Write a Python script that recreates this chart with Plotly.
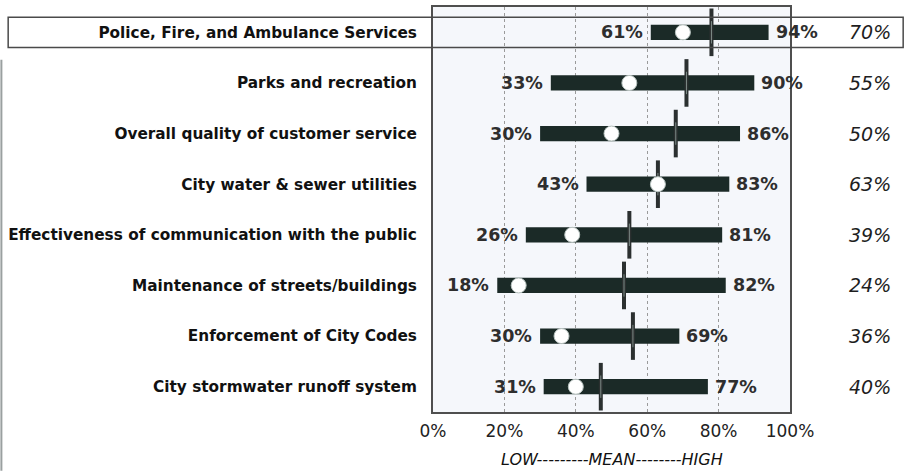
import plotly.graph_objects as go

# Service areas, top to bottom
services = [
    "Police, Fire, and Ambulance Services",
    "Parks and recreation",
    "Overall quality of customer service",
    "City water & sewer utilities",
    "Effectiveness of communication with the public",
    "Maintenance of streets/buildings",
    "Enforcement of City Codes",
    "City stormwater runoff system",
]
low = [61, 33, 30, 43, 26, 18, 30, 31]
high = [94, 90, 86, 83, 81, 82, 69, 77]
mean = [78, 71, 68, 63, 55, 53.5, 56, 47]
city = [70, 55, 50, 63, 39, 24, 36, 40]
tick_vals = [0, 20, 40, 60, 80, 100]
tick_text = ["0%", "20%", "40%", "60%", "80%", "100%"]

rows = list(range(len(services)))
BAR = "#1b2a27"
FONT = "DejaVu Sans"

fig = go.Figure()

# low-to-high range bars
fig.add_trace(go.Bar(
    y=rows, x=[h - l for l, h in zip(low, high)], base=low,
    orientation="h", width=0.3,
    marker=dict(color=BAR, line=dict(width=0)),
    hoverinfo="skip",
))

# mean marker (vertical tick)
fig.add_trace(go.Scatter(
    x=mean, y=rows, mode="markers",
    marker=dict(symbol="line-ns", size=34, line=dict(width=4, color="#2b3030")),
    hoverinfo="skip",
))
fig.add_trace(go.Scatter(
    x=mean, y=rows, mode="markers",
    marker=dict(symbol="line-ns", size=16, line=dict(width=1, color="#7d8a86")),
    hoverinfo="skip",
))

# city score marker
fig.add_trace(go.Scatter(
    x=city, y=rows, mode="markers",
    marker=dict(symbol="circle", size=15, color="#ffffff",
                line=dict(width=1, color="#b9c4c1")),
    hoverinfo="skip",
))

annotations = []
for r, l, h, c in zip(rows, low, high, city):
    annotations.append(dict(
        x=l, y=r, xref="x", yref="y", text=f"{l}%", showarrow=False,
        xanchor="right", yanchor="middle", xshift=-6,
        font=dict(family=FONT, size=17.5, color="#2e2e2e", weight="bold"),
    ))
    annotations.append(dict(
        x=h, y=r, xref="x", yref="y", text=f"{h}%", showarrow=False,
        xanchor="left", yanchor="middle", xshift=5,
        font=dict(family=FONT, size=17.5, color="#2e2e2e", weight="bold"),
    ))
    annotations.append(dict(
        x=1.224, y=r, xref="paper", yref="y", text=f"{c}%", showarrow=False,
        xanchor="center", yanchor="middle",
        font=dict(family=FONT, size=19, color="#1e1e1e", style="italic"),
    ))

annotations.append(dict(
    x=0.5, y=-0.117, xref="paper", yref="paper",
    text="LOW---------MEAN--------HIGH", showarrow=False,
    xanchor="center", yanchor="middle",
    font=dict(family=FONT, size=16, color="#111111", style="italic"),
))

shapes = [
    # highlight box around the first row
    dict(type="rect", xref="paper", yref="y",
         x0=-1.19, x1=1.317, y0=-0.3, y1=0.3,
         line=dict(color="#4a4a4a", width=1.5), fillcolor="rgba(0,0,0,0)",
         layer="above"),
    # page edge rule on the left
    dict(type="line", xref="paper", yref="paper",
         x0=-1.209, x1=-1.209, y0=-0.145, y1=0.87,
         line=dict(color="#9aa0a0", width=2)),
]

fig.update_layout(
    width=906, height=471,
    margin=dict(l=433, r=116, t=5, b=59),
    paper_bgcolor="#ffffff",
    plot_bgcolor="#f5f7fb",
    showlegend=False,
    barmode="overlay",
    annotations=annotations,
    shapes=shapes,
    font=dict(family=FONT, color="#1a1a1a"),
)

fig.update_xaxes(
    range=[0, 100], tickvals=tick_vals, ticktext=tick_text,
    showgrid=True, gridcolor="#9a9a9a", griddash="dot", gridwidth=1,
    zeroline=False, showline=True, mirror=True, linecolor="#4f4f4f", linewidth=2,
    ticks="", ticklabelstandoff=3,
    tickfont=dict(family=FONT, size=17, color="#222222"),
)
fig.update_yaxes(
    range=[len(services) - 0.5, -0.5], tickvals=rows, ticktext=services,
    showgrid=False, zeroline=False, showline=True, mirror=True,
    linecolor="#4f4f4f", linewidth=2, ticks="", ticklabelstandoff=11,
    tickfont=dict(family=FONT, size=15.3, color="#111111", weight="bold"),
)

fig.write_html("out.html")
